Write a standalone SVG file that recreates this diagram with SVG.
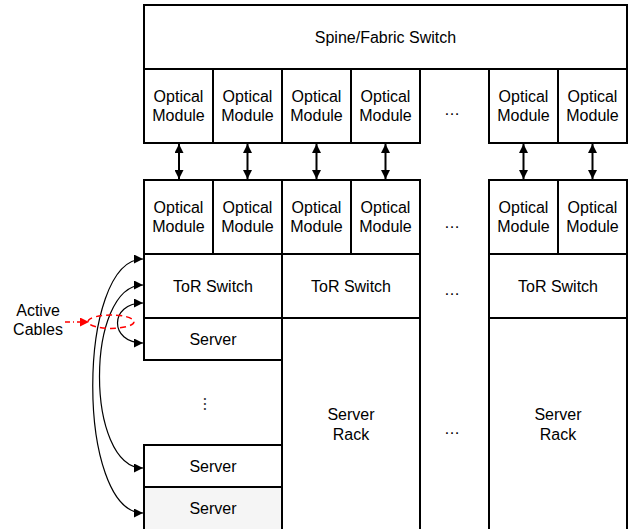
<svg xmlns="http://www.w3.org/2000/svg" width="632" height="529" viewBox="0 0 632 529">
<defs>
<style>
.box{fill:#ffffff;stroke:#000000;stroke-width:2}
.gray{fill:#f5f5f5;stroke:#000000;stroke-width:2}
text{font-family:"Liberation Sans",Arial,Helvetica,sans-serif;font-size:16px;fill:#000000;text-anchor:middle}
.conn{fill:none;stroke:#000000;stroke-width:2}
.cable{fill:none;stroke:#000000;stroke-width:1.2}
</style>
<marker id="ah" viewBox="0 0 10 10" refX="10" refY="5" markerWidth="10" markerHeight="9" markerUnits="userSpaceOnUse" orient="auto-start-reverse">
<path d="M0,0 L10,5 L0,10 z" fill="#000000"/>
</marker>
<marker id="ahr" viewBox="0 0 10 10" refX="10" refY="5" markerWidth="11" markerHeight="9" markerUnits="userSpaceOnUse" orient="auto">
<path d="M0,0 L10,5 L0,10 z" fill="#ff0000"/>
</marker>
</defs>
<rect width="632" height="529" fill="#ffffff"/>

<g id="spine"><rect class="box" x="144" y="5" width="483" height="64"/><text x="385.5" y="42.5">Spine/Fabric Switch</text></g>

<g id="om-top-1"><rect class="box" x="144" y="69" width="69" height="74"/><text x="178.5" y="101.5">Optical</text><text x="178.5" y="120.5">Module</text></g>
<g id="om-top-2"><rect class="box" x="213" y="69" width="69" height="74"/><text x="247.5" y="101.5">Optical</text><text x="247.5" y="120.5">Module</text></g>
<g id="om-top-3"><rect class="box" x="282" y="69" width="69" height="74"/><text x="316.5" y="101.5">Optical</text><text x="316.5" y="120.5">Module</text></g>
<g id="om-top-4"><rect class="box" x="351" y="69" width="69" height="74"/><text x="385.5" y="101.5">Optical</text><text x="385.5" y="120.5">Module</text></g>
<g id="om-top-5"><rect class="box" x="489" y="69" width="69" height="74"/><text x="523.5" y="101.5">Optical</text><text x="523.5" y="120.5">Module</text></g>
<g id="om-top-6"><rect class="box" x="558" y="69" width="69" height="74"/><text x="592.5" y="101.5">Optical</text><text x="592.5" y="120.5">Module</text></g>

<g id="om-bot-1"><rect class="box" x="144" y="180" width="69" height="74"/><text x="178.5" y="212.5">Optical</text><text x="178.5" y="231.5">Module</text></g>
<g id="om-bot-2"><rect class="box" x="213" y="180" width="69" height="74"/><text x="247.5" y="212.5">Optical</text><text x="247.5" y="231.5">Module</text></g>
<g id="om-bot-3"><rect class="box" x="282" y="180" width="69" height="74"/><text x="316.5" y="212.5">Optical</text><text x="316.5" y="231.5">Module</text></g>
<g id="om-bot-4"><rect class="box" x="351" y="180" width="69" height="74"/><text x="385.5" y="212.5">Optical</text><text x="385.5" y="231.5">Module</text></g>
<g id="om-bot-5"><rect class="box" x="489" y="180" width="69" height="74"/><text x="523.5" y="212.5">Optical</text><text x="523.5" y="231.5">Module</text></g>
<g id="om-bot-6"><rect class="box" x="558" y="180" width="69" height="74"/><text x="592.5" y="212.5">Optical</text><text x="592.5" y="231.5">Module</text></g>

<g id="tor-1"><rect class="box" x="144" y="254" width="138" height="64"/><text x="213" y="291.5">ToR Switch</text></g>
<g id="tor-2"><rect class="box" x="282" y="254" width="138" height="64"/><text x="351" y="291.5">ToR Switch</text></g>
<g id="tor-3"><rect class="box" x="489" y="254" width="138" height="64"/><text x="558" y="291.5">ToR Switch</text></g>

<g id="server-1"><rect class="box" x="144" y="318" width="138" height="42"/><text x="213" y="345">Server</text></g>
<g id="server-2"><rect class="box" x="144" y="445" width="138" height="42"/><text x="213" y="472">Server</text></g>
<g id="server-3"><rect class="gray" x="144" y="487" width="138" height="45"/><text x="213" y="514">Server</text></g>
<g id="vdots"><text x="204.5" y="405" transform="rotate(90 204.5 404)">…</text></g>

<g id="rack-2"><rect class="box" x="282" y="318" width="138" height="214"/><text x="351" y="420">Server</text><text x="351" y="439.5">Rack</text></g>
<g id="rack-3"><rect class="box" x="489" y="318" width="138" height="214"/><text x="558" y="420">Server</text><text x="558" y="439.5">Rack</text></g>

<g id="ellipses">
<text x="452" y="114.5">…</text>
<text x="452" y="228">…</text>
<text x="452" y="294.5">…</text>
<text x="452" y="433.5">…</text>
</g>

<g id="label-active"><text x="38" y="316">Active</text><text x="38" y="335">Cables</text></g>

<g id="connectors">
<line class="conn" x1="179" y1="144" x2="179" y2="179" marker-start="url(#ah)" marker-end="url(#ah)"/>
<line class="conn" x1="247.5" y1="144" x2="247.5" y2="179" marker-start="url(#ah)" marker-end="url(#ah)"/>
<line class="conn" x1="316.5" y1="144" x2="316.5" y2="179" marker-start="url(#ah)" marker-end="url(#ah)"/>
<line class="conn" x1="385.5" y1="144" x2="385.5" y2="179" marker-start="url(#ah)" marker-end="url(#ah)"/>
<line class="conn" x1="523.5" y1="144" x2="523.5" y2="179" marker-start="url(#ah)" marker-end="url(#ah)"/>
<line class="conn" x1="592.5" y1="144" x2="592.5" y2="179" marker-start="url(#ah)" marker-end="url(#ah)"/>
<path class="cable" d="M143,259 C76,259 76,513 143,513" marker-start="url(#ah)" marker-end="url(#ah)"/>
<path class="cable" d="M143,285 C85,285 85,468 143,468" marker-start="url(#ah)" marker-end="url(#ah)"/>
<path class="cable" d="M143,303 C109,303 109,343 143,343" marker-start="url(#ah)" marker-end="url(#ah)"/>
<ellipse cx="111" cy="321.7" rx="23" ry="6.7" fill="none" stroke="#ff0000" stroke-width="1.5" stroke-dasharray="6,4"/>
<line x1="65" y1="322" x2="89" y2="322" stroke="#ff0000" stroke-width="1.5" stroke-dasharray="5,3,1,3" marker-end="url(#ahr)"/>
</g>
</svg>
